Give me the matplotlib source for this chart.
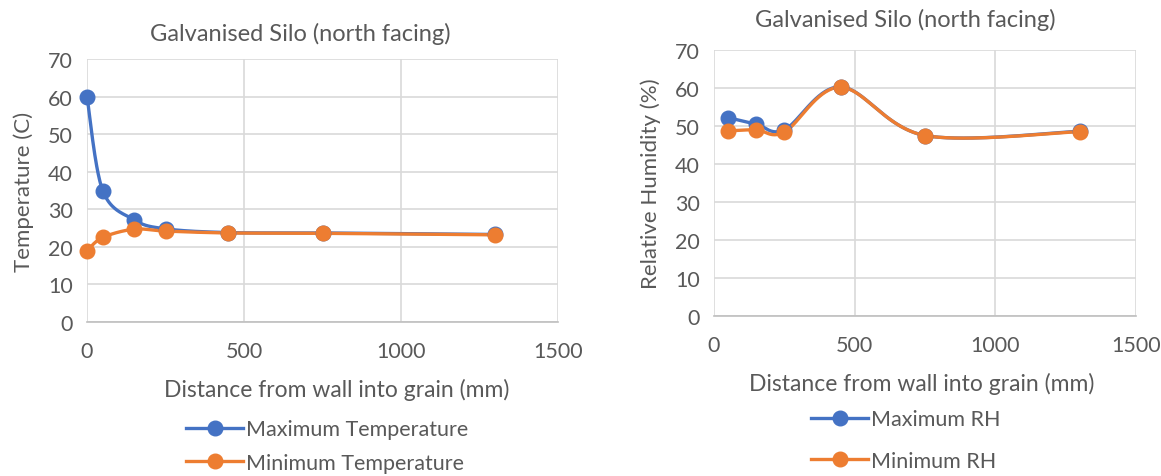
import numpy as np
import matplotlib
matplotlib.use("Agg")
import matplotlib.pyplot as plt
from matplotlib.lines import Line2D

# ---------------------------------------------------------------------------
# Data
# ---------------------------------------------------------------------------
dist_temp = [0, 50, 150, 250, 450, 750, 1300]
max_temp = [60.0, 35.0, 27.2, 24.8, 23.8, 23.7, 23.3]
min_temp = [19.0, 22.5, 24.7, 24.2, 23.7, 23.6, 23.2]

dist_rh = [50, 150, 250, 450, 750, 1300]
max_rh = [52.2, 50.5, 49.0, 60.3, 47.5, 48.6]
min_rh = [48.7, 49.0, 48.4, 60.2, 47.5, 48.5]

TITLE = "Galvanised Silo (north facing)"
XLABEL = "Distance from wall into grain (mm)"

BLUE = "#4472C4"
ORANGE = "#ED7D31"
GRID = "#D9D9D9"
TEXT = "#595959"

plt.rcParams["font.family"] = ["Lato", "DejaVu Sans"]


def smooth(xs, ys, sx, sy, n=40):
    """Excel-style smoothed line: cubic Bezier through points, tangents
    from neighbours (Catmull-Rom, 1/6), computed in screen-scaled space."""
    p = np.column_stack([np.asarray(xs, float) * sx, np.asarray(ys, float) * sy])
    ext = np.vstack([p[0], p, p[-1]])
    out = []
    t = np.linspace(0, 1, n)[:, None]
    for i in range(1, len(ext) - 2):
        p0, p1, p2, p3 = ext[i - 1], ext[i], ext[i + 1], ext[i + 2]
        c1 = p1 + (p2 - p0) / 6
        c2 = p2 - (p3 - p1) / 6
        seg = ((1 - t) ** 3 * p1 + 3 * (1 - t) ** 2 * t * c1
               + 3 * (1 - t) * t ** 2 * c2 + t ** 3 * p2)
        out.append(seg if i == 1 else seg[1:])
    out = np.vstack(out)
    return out[:, 0] / sx, out[:, 1] / sy


def style(ax, ylabel, title_pad, title_x, xlabel_x):
    ax.set_xlim(0, 1500)
    ax.set_ylim(0, 70)
    ax.set_xticks([0, 500, 1000, 1500])
    ax.set_yticks(range(0, 71, 10))
    ax.grid(True, color=GRID, linewidth=1.2)
    ax.set_axisbelow(True)
    for s in ["top", "right", "left"]:
        ax.spines[s].set_visible(False)
    ax.spines["bottom"].set_color("#BFBFBF")
    ax.spines["bottom"].set_linewidth(1.2)
    ax.tick_params(length=0, labelsize=15.5, colors=TEXT)
    ax.tick_params(axis="y", pad=10)
    ax.tick_params(axis="x", pad=14)
    ax.set_ylabel(ylabel, fontsize=16, color=TEXT, labelpad=10)
    ax.set_xlabel(XLABEL, fontsize=16.5, color=TEXT, labelpad=12, x=xlabel_x)
    ax.set_title(TITLE, fontsize=17, color=TEXT, pad=title_pad, x=title_x)


def draw(ax, x, y, color, w_px, h_px):
    sx, sy = w_px / 1500, h_px / 70
    cx, cy = smooth(x, y, sx, sy)
    ax.plot(cx, cy, color=color, linewidth=2.4, solid_capstyle="round",
            zorder=3, clip_on=False)
    ax.plot(x, y, "o", color=color, markersize=10.5, zorder=4, clip_on=False)


fig = plt.figure(figsize=(11.61, 4.77), dpi=100)
fig.patch.set_facecolor("white")

ax_t = fig.add_axes([87 / 1161, 1 - 323 / 477, 471 / 1161, 263 / 477])
ax_h = fig.add_axes([714 / 1161, 1 - 317 / 477, 422 / 1161, 266 / 477])

draw(ax_t, dist_temp, max_temp, BLUE, 471, 263)
draw(ax_t, dist_temp, min_temp, ORANGE, 471, 263)
style(ax_t, "Temperature (C)", title_pad=14, title_x=0.452, xlabel_x=0.53)

draw(ax_h, dist_rh, max_rh, BLUE, 422, 266)
draw(ax_h, dist_rh, min_rh, ORANGE, 422, 266)
style(ax_h, "Relative Humidity (%)", title_pad=17, title_x=0.453, xlabel_x=0.493)


def handle(color):
    return Line2D([], [], color=color, linewidth=2.4, marker="o", markersize=10.5)


leg_t = fig.legend([handle(BLUE), handle(ORANGE)],
                   ["Maximum Temperature", "Minimum Temperature"],
                   loc="upper left", bbox_to_anchor=(167 / 1161, 1 - 401 / 477),
                   frameon=False, fontsize=15.5, labelcolor=TEXT,
                   handlelength=2.65, handletextpad=0.1, labelspacing=0.62)
leg_h = fig.legend([handle(BLUE), handle(ORANGE)],
                   ["Maximum RH", "Minimum RH"],
                   loc="upper left", bbox_to_anchor=(792 / 1161, 1 - 391 / 477),
                   frameon=False, fontsize=15.5, labelcolor=TEXT,
                   handlelength=2.65, handletextpad=0.1, labelspacing=1.0)

fig.savefig("out.png", dpi=100, facecolor="white")
